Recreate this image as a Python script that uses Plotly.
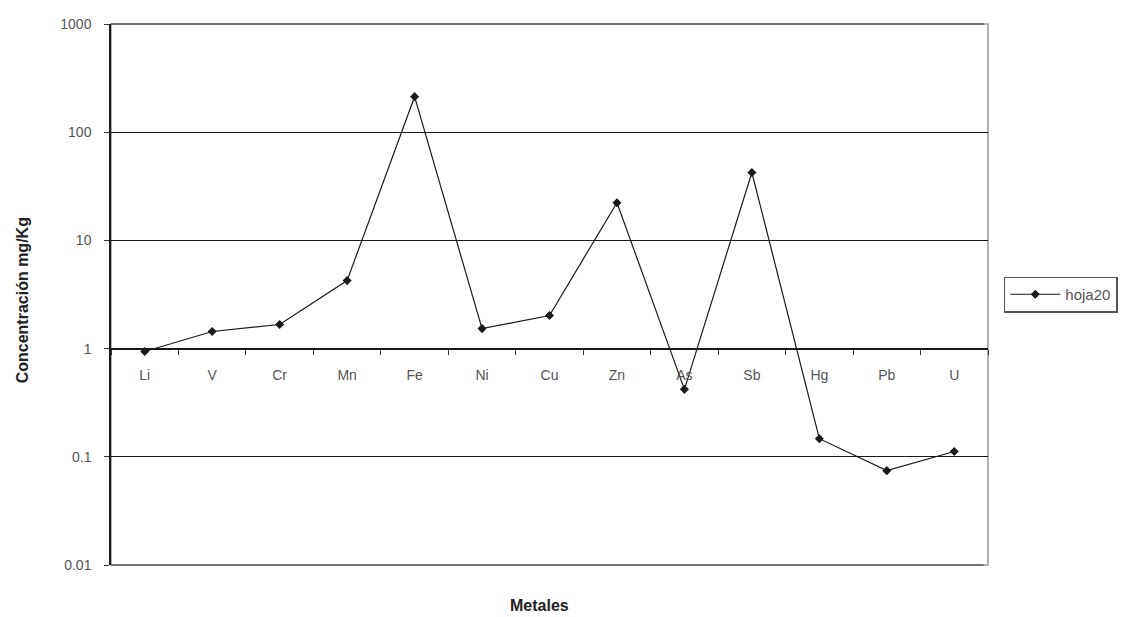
import plotly.graph_objects as go

categories = ["Li", "V", "Cr", "Mn", "Fe", "Ni", "Cu", "Zn", "As", "Sb", "Hg", "Pb", "U"]
values = [0.94, 1.44, 1.67, 4.25, 213, 1.53, 2.02, 22.3, 0.42, 42.4, 0.147, 0.0745, 0.112]
y_tickvals = [0.01, 0.1, 1, 10, 100, 1000]
y_ticktext = ["0.01", "0.1", "1", "10", "100", "1000"]
series_name = "hoja20"

fig = go.Figure()
fig.add_trace(go.Scatter(
    x=categories, y=values, mode="lines+markers", name=series_name,
    line=dict(color="#1a1a1a", width=1.2),
    marker=dict(symbol="diamond", size=7, color="#1a1a1a"),
))

font_family = "Liberation Sans, Arial, sans-serif"
fig.update_layout(
    width=1130, height=617,
    margin=dict(l=111, r=142, t=24, b=52),
    paper_bgcolor="white", plot_bgcolor="white",
    showlegend=True,
    legend=dict(x=1.018, y=0.5, xanchor="left", yanchor="middle",
                bordercolor="#555555", borderwidth=1.5,
                font=dict(family=font_family, size=15, color="#555555"),
                itemwidth=50, tracegroupgap=0),
    font=dict(family=font_family, color="#555555"),
)
fig.update_xaxes(
    type="category", anchor="free", position=0.4,
    showline=True, linecolor="#1a1a1a", linewidth=1,
    ticks="outside", ticklen=5, tickcolor="#333333", tickson="boundaries",
    ticklabelstandoff=14,
    showgrid=False, range=[-0.5, 12.5],
    tickfont=dict(family=font_family, size=14, color="#555555"),
    zeroline=False,
)
fig.update_yaxes(
    type="log", range=[-2, 3],
    tickvals=y_tickvals, ticktext=y_ticktext,
    showline=True, linecolor="#1a1a1a", linewidth=1.5,
    ticks="outside", ticklen=5, tickcolor="#333333",
    ticklabelstandoff=10,
    showgrid=True, gridcolor="#1a1a1a", gridwidth=1,
    tickfont=dict(family=font_family, size=14, color="#555555"),
    zeroline=False,
)
# plot area border (right / bottom)
fig.add_shape(type="rect", xref="paper", yref="paper", x0=0, x1=1, y0=0, y1=1,
              line=dict(color="#999999", width=1.5), layer="below")
for yy in (0, 1):
    fig.add_shape(type="line", xref="paper", yref="paper", x0=0, x1=0.995, y0=yy, y1=yy,
                  line=dict(color="#333333", width=1))
fig.add_annotation(text="<b>Metales</b>", xref="paper", yref="paper",
                   x=0.489, y=-0.074, showarrow=False, xanchor="center", yanchor="middle",
                   font=dict(family=font_family, size=16, color="#222222"))
fig.add_annotation(text="<b>Concentración mg/Kg</b>", xref="paper", yref="paper",
                   x=-0.101, y=0.49, showarrow=False, textangle=-90,
                   xanchor="center", yanchor="middle",
                   font=dict(family=font_family, size=16, color="#222222"))

fig.write_html("out.html")
